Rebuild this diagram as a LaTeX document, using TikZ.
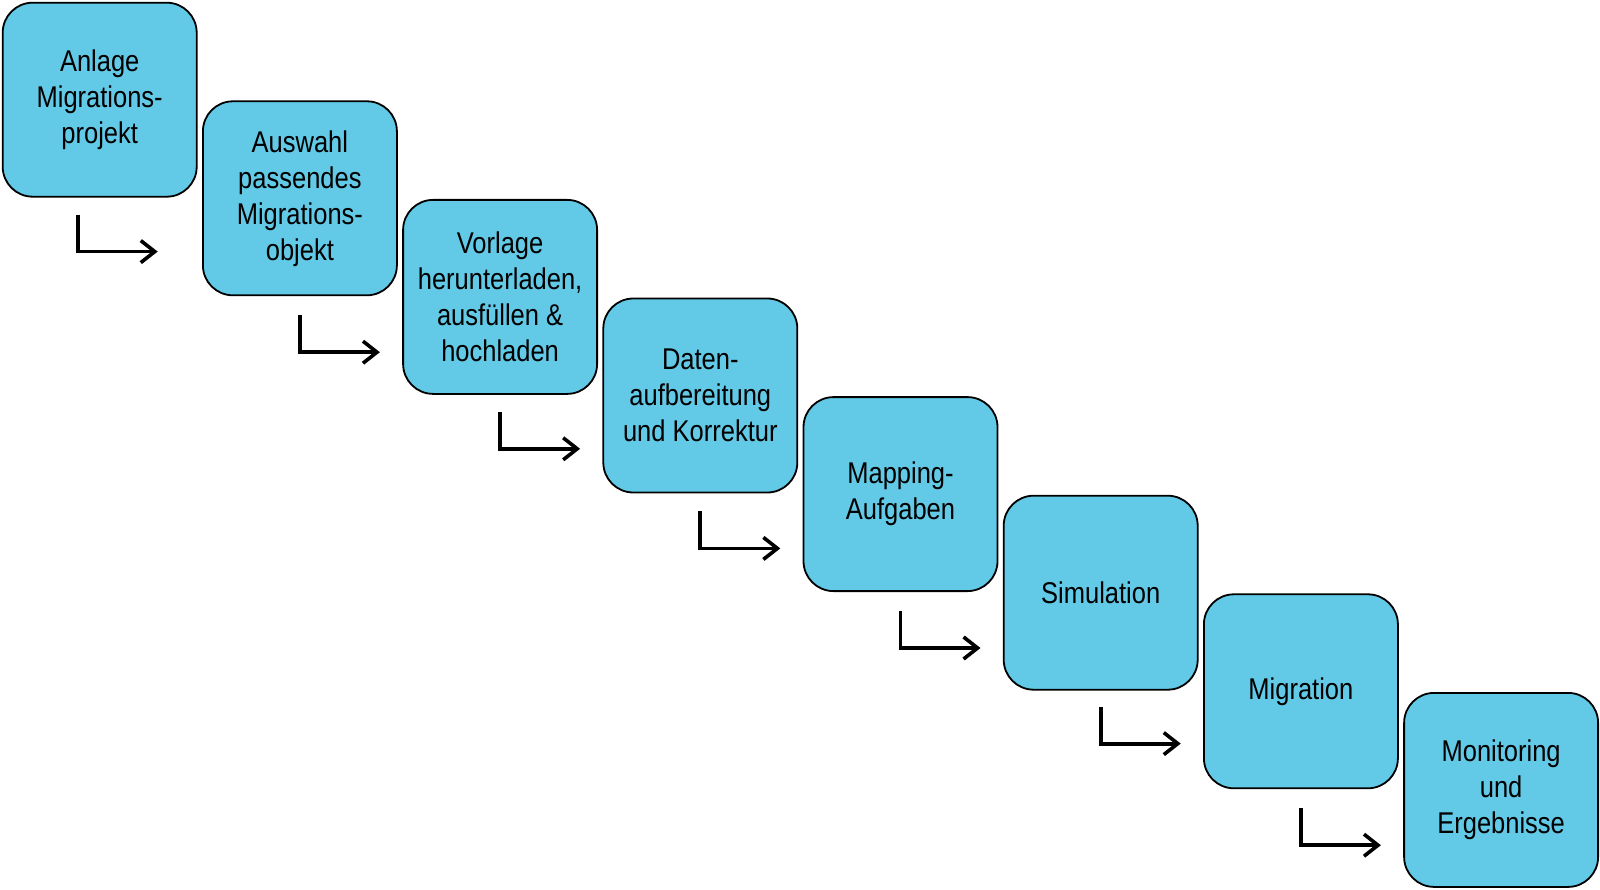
\documentclass[tikz,border=0pt]{standalone}
\usepackage{fontspec}
\setmainfont{Liberation Sans}[FakeStretch=0.85]
\usetikzlibrary{arrows.meta,positioning}
\definecolor{stepblue}{RGB}{98, 201, 230}
\tikzstyle{stepbox} = [rectangle, rounded corners=30pt, draw=black, line width=1.8pt, fill=stepblue, text=black, align=center, minimum size=194pt, inner sep=0pt, font=\fontsize{30}{36}\selectfont]
\tikzstyle{nextedge} = [draw, line width=3.8pt, -{Straight Barb[length=14pt, width=22pt, line width=3.6pt]}]

\begin{document}
\begin{tikzpicture}[auto]
\useasboundingbox (0pt,0pt) rectangle (1600pt,-890pt);

% steps ===================================

\node[stepbox, anchor=north west] (b1) at (1.8pt,-1.8pt) {Anlage\\Migrations-\\projekt};
\node[stepbox, below right=-97.2pt and 4.4pt of b1] (b2) {Auswahl\\passendes\\Migrations-\\objekt};
\node[stepbox, below right=-97.2pt and 4.4pt of b2] (b3) {Vorlage\\herunterladen,\\ausfüllen \&\\hochladen};
\node[stepbox, below right=-97.2pt and 4.4pt of b3] (b4) {Daten-\\aufbereitung\\und Korrektur};
\node[stepbox, below right=-97.2pt and 4.4pt of b4] (b5) {Mapping-\\Aufgaben};
\node[stepbox, below right=-97.2pt and 4.4pt of b5] (b6) {Simulation};
\node[stepbox, below right=-97.2pt and 4.4pt of b6] (b7) {Migration};
\node[stepbox, below right=-97.2pt and 4.4pt of b7] (b8) {Monitoring\\und\\Ergebnisse};

% arrows between the steps ================

\coordinate[below=17pt of b1.south, xshift=-22pt] (a1s);
\coordinate[below=19pt of b2.south] (a2s);
\coordinate[below=17pt of b3.south] (a3s);
\coordinate[below=18pt of b4.south] (a4s);
\coordinate[below=19pt of b5.south] (a5s);
\coordinate[below=16pt of b6.south] (a6s);
\coordinate[below=19pt of b7.south] (a7s);

\coordinate[below right=37pt and 80pt of a1s] (a1e);
\coordinate[below right=37pt and 80pt of a2s] (a2e);
\coordinate[below right=37pt and 80pt of a3s] (a3e);
\coordinate[below right=37pt and 80pt of a4s] (a4e);
\coordinate[below right=37pt and 80pt of a5s] (a5e);
\coordinate[below right=37pt and 80pt of a6s] (a6e);
\coordinate[below right=37pt and 80pt of a7s] (a7e);

\path[nextedge] (a1s) |- (a1e);
\path[nextedge] (a2s) |- (a2e);
\path[nextedge] (a3s) |- (a3e);
\path[nextedge] (a4s) |- (a4e);
\path[nextedge] (a5s) |- (a5e);
\path[nextedge] (a6s) |- (a6e);
\path[nextedge] (a7s) |- (a7e);

\end{tikzpicture}
\end{document}
